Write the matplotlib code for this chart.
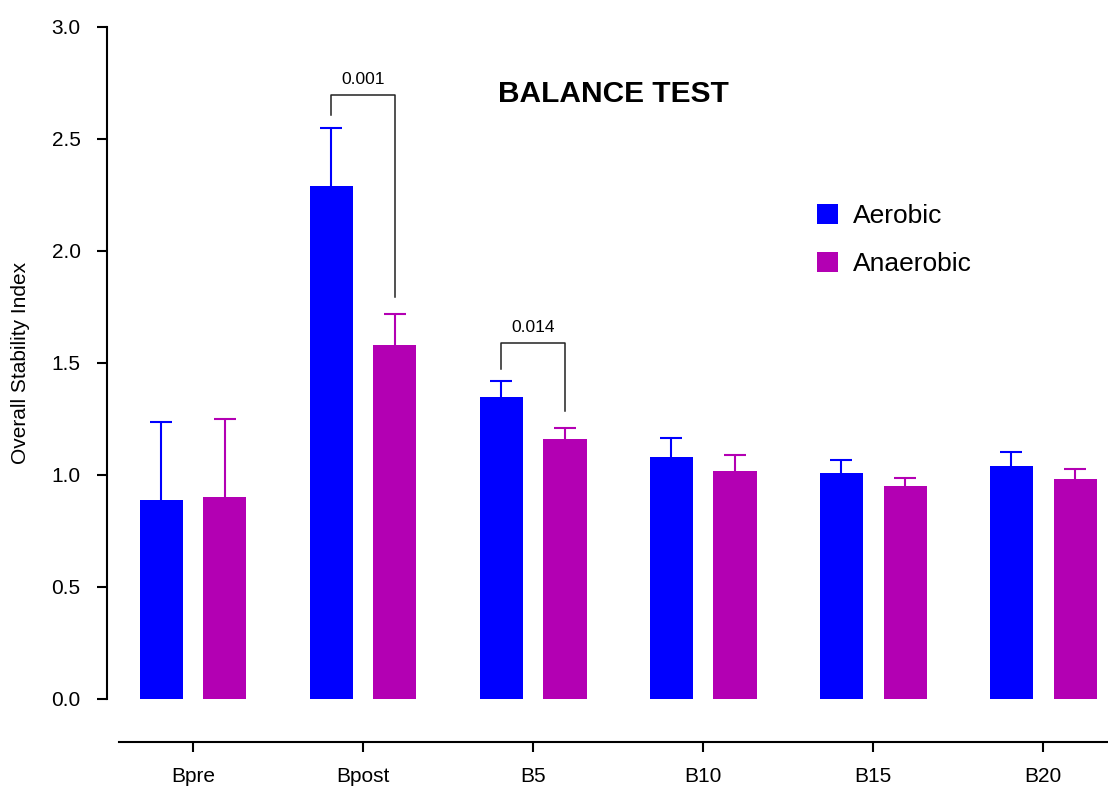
import numpy as np
import matplotlib.pyplot as plt

# values (mean and upper error bar)
timepoints = ["Bpre", "Bpost", "B5", "B10", "B15", "B20"]
aerobic = [0.89, 2.29, 1.35, 1.08, 1.01, 1.04]
aerobic_err = [0.345, 0.26, 0.07, 0.085, 0.058, 0.063]
anaerobic = [0.90, 1.58, 1.16, 1.02, 0.95, 0.98]
anaerobic_err = [0.35, 0.14, 0.05, 0.07, 0.035, 0.045]

# significant comparisons: group index, p value label
comparisons = [(1, "0.001"), (2, "0.014")]
bracket_tops = [2.695, 1.59]

BLUE = "#0000FF"
PURPLE = "#B300B3"

plt.rcParams["font.family"] = ["Liberation Sans", "DejaVu Sans"]

fig = plt.figure(figsize=(11.08, 7.87), dpi=100)
ax = fig.add_axes([107 / 1108, 88 / 787, 1001 / 1108, 672 / 787])

# spine position first: it resets the ticks
ax.spines["top"].set_visible(False)
ax.spines["right"].set_visible(False)
ax.spines["left"].set_linewidth(1.5)
ax.spines["bottom"].set_linewidth(1.5)
ax.spines["bottom"].set_position(("outward", 31))

x = np.arange(len(timepoints))
offset = 0.188
width = 0.253

b1 = ax.bar(x - offset, aerobic, width, color=BLUE, label="Aerobic", zorder=3)
b2 = ax.bar(x + offset, anaerobic, width, color=PURPLE, label="Anaerobic", zorder=3)
# symmetric bars drawn under the columns, so only the upper half shows
ax.errorbar(x - offset, aerobic, yerr=aerobic_err, fmt="none",
            ecolor=BLUE, elinewidth=1.5, capsize=8, capthick=1.5, zorder=2)
ax.errorbar(x + offset, anaerobic, yerr=anaerobic_err, fmt="none",
            ecolor=PURPLE, elinewidth=1.5, capsize=8, capthick=1.5, zorder=2)

# brackets with p values
for (i, label), top in zip(comparisons, bracket_tops):
    left_y = aerobic[i] + aerobic_err[i] + 0.055
    right_y = anaerobic[i] + anaerobic_err[i] + 0.075
    ax.plot([x[i] - offset, x[i] - offset, x[i] + offset, x[i] + offset],
            [left_y, top, top, right_y], color="#222222", lw=1.1, zorder=4)
    ax.text(x[i], top + 0.035, label, ha="center", va="bottom", fontsize=12.5)

ax.text(2.47, 2.7, "BALANCE TEST", ha="center", va="center",
        fontsize=21.5, fontweight="bold")

ax.set_ylim(0, 3.0)
ax.set_xlim(-0.506, 5.382)
ax.spines["bottom"].set_bounds(-0.435, 5.382)
ax.set_yticks(np.arange(0, 3.01, 0.5))
ax.set_yticklabels([f"{v:.1f}" for v in np.arange(0, 3.01, 0.5)])
ax.set_xticks(x)
ax.set_xticklabels(timepoints)
ax.tick_params(axis="y", direction="out", length=7, width=1.5, pad=12, labelsize=15)
ax.tick_params(axis="x", direction="out", length=7, width=1.5, pad=11, labelsize=15)

ax.set_ylabel("Overall Stability Index", fontsize=15)
ax.yaxis.set_label_coords(-0.077, 0.5)

ax.legend(handles=[b1, b2], loc="upper left", frameon=False, fontsize=19,
          handlelength=0.8, handleheight=0.8, handletextpad=0.55, labelspacing=0.9,
          borderpad=0, borderaxespad=0,
          bbox_to_anchor=(817 / 1108, 1 - 204 / 787), bbox_transform=fig.transFigure)

fig.savefig("out.png", dpi=100)
